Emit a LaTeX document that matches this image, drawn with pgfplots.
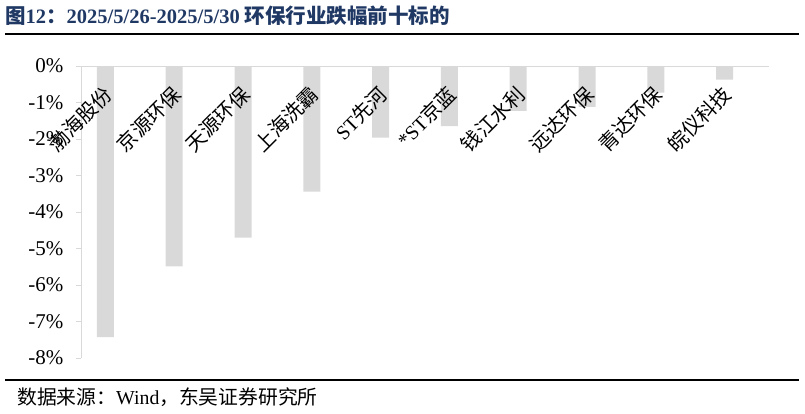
\documentclass[border=0pt]{standalone}
\usepackage{fontspec}
\setmainfont{Liberation Serif}
\newfontfamily\cjk{Noto Sans CJK SC}
\usepackage{pgfplots}
\pgfplotsset{compat=1.18}
\definecolor{bargray}{RGB}{217,217,217}
\definecolor{titleblue}{RGB}{31,56,100}

\begin{document}
\begin{tikzpicture}
	% image pixels -> pt, origin at top left, y downwards negative
	\node[anchor=west, inner sep=0pt, text=titleblue, font=\fontsize{20.5}{22}\selectfont\bfseries]
		at (5pt,-16pt) {{\cjk 图}12{\cjk ：}2025/5/26-2025/5/30 {\cjk 环保行业跌幅前十标的}};
	\draw[line width=1.8pt] (5pt,-34pt) -- (799pt,-34pt);
	\draw[line width=1.8pt] (5pt,-380pt) -- (799pt,-380pt);
	\node[anchor=west, inner sep=0pt, font=\fontsize{19.8}{21}\selectfont]
		at (17pt,-397pt) {{\cjk 数据来源：}Wind{\cjk ，东吴证券研究所}};

	\begin{axis}[
		at={(81pt,-358pt)}, anchor=south west,
		width=688pt, height=292pt, scale only axis,
		xmin=-0.5, xmax=9.5, ymin=-8, ymax=0,
		axis on top,
		axis x line*=top, axis y line*=left,
		axis line style={bargray, line width=1pt},
		xtick={0,...,9},
		xticklabels={
			{\cjk 渤海股份},{\cjk 京源环保},{\cjk 天源环保},{\cjk 上海洗霸},
			ST{\cjk 先河},*ST{\cjk 京蓝},{\cjk 钱江水利},{\cjk 远达环保},
			{\cjk 青达环保},{\cjk 皖仪科技}},
		x tick style={draw=none},
		xticklabel style={font=\fontsize{20}{22}\selectfont, inner sep=0pt,
			anchor=east, xshift=-7pt, yshift=-30pt, rotate=45},
		ytick={-8,...,0},
		yticklabels={-8\%,-7\%,-6\%,-5\%,-4\%,-3\%,-2\%,-1\%,0\%},
		yticklabel style={font=\fontsize{21}{23}\selectfont, xshift=-9pt},
		y tick style={bargray, line width=1pt},
		tick align=outside, major tick length=5pt,
		ytick pos=left,
		ybar, bar width=17pt, bar shift=-10pt,
	]
	\addplot[fill=bargray, draw=none] coordinates {
		(0,-7.43) (1,-5.49) (2,-4.70) (3,-3.44) (4,-1.96)
		(5,-1.65) (6,-1.23) (7,-1.12) (8,-0.73) (9,-0.37)
	};
	\end{axis}
	\pgfresetboundingbox
	\path[use as bounding box] (0,0) rectangle (805pt,-413pt);
\end{tikzpicture}
\end{document}
